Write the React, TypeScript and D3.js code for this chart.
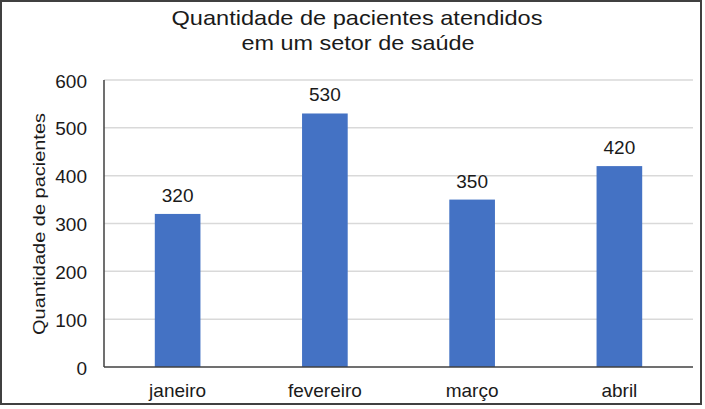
import React from "react";
import * as d3 from "d3";

const months = ["janeiro", "fevereiro", "março", "abril"];
const patients = [320, 530, 350, 420];
const yTicks = [0, 100, 200, 300, 400, 500, 600];
const titleLines = ["Quantidade de pacientes atendidos", "em um setor de saúde"];
const yLabel = "Quantidade de pacientes";

const W = 705;
const H = 409;
const font = "'Liberation Sans', Arial, sans-serif";

export default function App() {
    const x = d3.scaleBand<string>().domain(months).range([104, 693]).paddingInner(0.69).paddingOuter(0.345);
    const y = d3.scaleLinear().domain([0, 600]).range([367, 80]);

    return (
        <div style={{position: "absolute", left: 0, top: 0}}>
            <svg width={W} height={H} style={{display: "block", background: "#fff"}}>
                <rect x={1} y={1} width={700} height={403} fill="#fff" stroke="#404040" strokeWidth={2}/>

                {/* title */}
                <text x={357} y={25} textAnchor="middle" fontFamily={font} fontSize={21} fill="#1a1a1a"
                      textLength={371} lengthAdjust="spacingAndGlyphs">{titleLines[0]}</text>
                <text x={358} y={50} textAnchor="middle" fontFamily={font} fontSize={21} fill="#1a1a1a"
                      textLength={233} lengthAdjust="spacingAndGlyphs">{titleLines[1]}</text>

                {/* gridlines + y ticks */}
                {yTicks.map(t => (
                    <g key={t}>
                        {t > 0 && <line x1={104} x2={693} y1={y(t)} y2={y(t)} stroke="#d9d9d9" strokeWidth={1.5}/>}
                        <text x={87} y={y(t) + 1} textAnchor="end" dominantBaseline="central"
                              fontFamily={font} fontSize={19} fill="#1a1a1a">{t}</text>
                    </g>
                ))}

                {/* y axis label */}
                <text transform={`translate(45,224) rotate(-90)`} textAnchor="middle" fontFamily={font}
                      fontSize={17} fill="#1a1a1a" textLength={222} lengthAdjust="spacingAndGlyphs">{yLabel}</text>

                {/* bars */}
                {months.map((m, i) => (
                    <g key={m}>
                        <rect x={x(m)} y={y(patients[i])} width={x.bandwidth()} height={y(0) - y(patients[i])}
                              fill="#4472C4"/>
                        <text x={(x(m) as number) + x.bandwidth() / 2} y={y(patients[i]) - 12} textAnchor="middle"
                              fontFamily={font} fontSize={19} fill="#1a1a1a">{patients[i]}</text>
                        <text x={(x(m) as number) + x.bandwidth() / 2} y={397} textAnchor="middle"
                              fontFamily={font} fontSize={19} fill="#1a1a1a">{m}</text>
                    </g>
                ))}

                {/* axes */}
                <line x1={104} x2={104} y1={80} y2={367} stroke="#404040" strokeWidth={1.5}/>
                <line x1={104} x2={693} y1={367} y2={367} stroke="#404040" strokeWidth={1.5}/>
            </svg>
        </div>
    );
}
